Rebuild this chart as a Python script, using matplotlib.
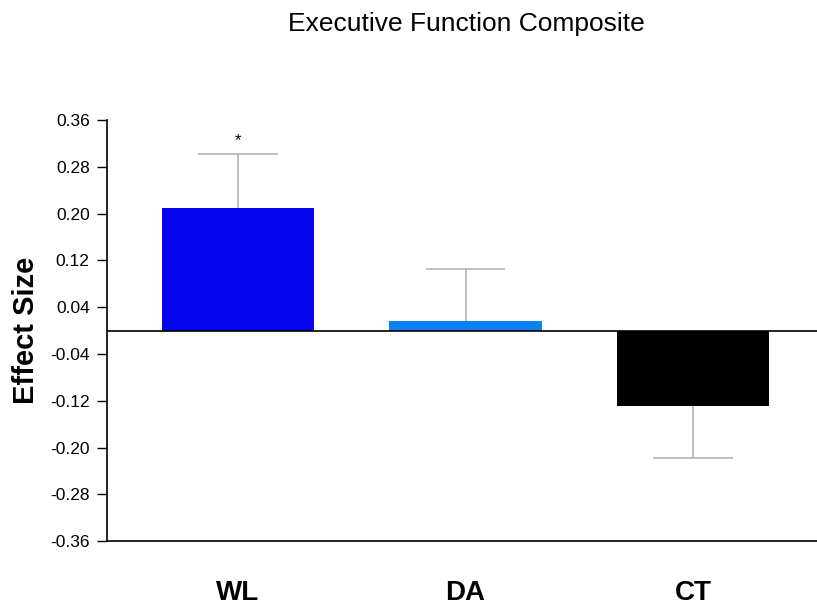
import numpy as np
import matplotlib.pyplot as plt

plt.rcParams['font.family'] = ['Liberation Sans', 'DejaVu Sans']

# values
groups = ['WL', 'DA', 'CT']
effect = [0.210, 0.017, -0.129]
err = [0.092, 0.088, 0.089]
colors = ['#0505f0', '#0a80f2', '#000000']
yticks = [0.36, 0.28, 0.20, 0.12, 0.04, -0.04, -0.12, -0.20, -0.28, -0.36]

fig = plt.figure(figsize=(8.17, 6.06), dpi=100)
ax = fig.add_axes([0.131, 0.107, 0.869, 0.695])

x = np.arange(len(groups))
ax.bar(x, effect, width=0.67, color=colors, zorder=2)

# one-sided error bars, away from zero, cap only at the far end
ends = [v + np.sign(v) * e for v, e in zip(effect, err)]
ax.vlines(x, effect, ends, color='#b5b5b5', linewidth=1.2, zorder=1)
ax.hlines(ends, x - 0.175, x + 0.175, color='#b5b5b5', linewidth=1.2, zorder=1)

ax.axhline(0, color='black', linewidth=1.2, zorder=3)
ax.text(x[0], ends[0] + 0.022, '*', ha='center', va='center', fontsize=12)

ax.set_xlim(-0.576, 2.545)
ax.set_ylim(-0.36, 0.36)
ax.set_yticks(yticks)
ax.set_yticklabels([f'{t:.2f}' for t in yticks], fontsize=12.5)
ax.set_xticks(x)
ax.set_xticklabels(groups, fontsize=20, fontweight='bold')
ax.tick_params(axis='x', length=0, pad=28)
ax.tick_params(axis='y', length=7.5, width=1, pad=5)

for side in ['top', 'right']:
    ax.spines[side].set_visible(False)
for side in ['left', 'bottom']:
    ax.spines[side].set_linewidth(1.2)

ax.set_ylabel('Effect Size', fontsize=21, fontweight='bold', labelpad=7)
fig.suptitle('Executive Function Composite', x=0.571, y=0.98, fontsize=19)

fig.savefig('out.png', dpi=100)
